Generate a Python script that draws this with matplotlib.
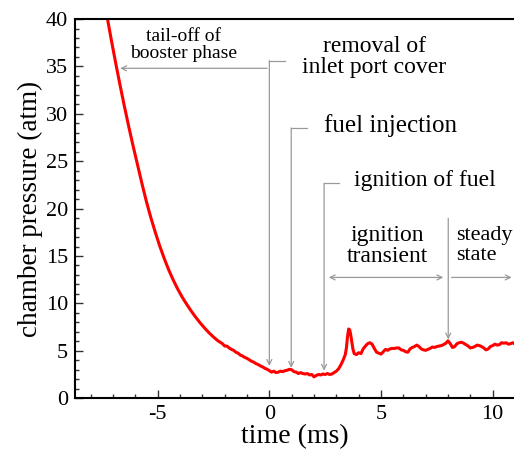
import matplotlib
matplotlib.use("Agg")
import matplotlib.pyplot as plt
from matplotlib.ticker import MultipleLocator

plt.rcParams["font.family"] = ["Liberation Serif", "DejaVu Serif"]

# 燃燒室壓力歷程 (time in ms, pressure in atm)
time_ms = [
    -7.3, -7.1, -6.9, -6.7, -6.5, -6.3, -6.1, -5.9, -5.7, -5.5, -5.3, -5.1, -4.9,
    -4.7, -4.5, -4.3, -4.1, -3.9, -3.7, -3.5, -3.3, -3.1, -2.9, -2.7, -2.5, -2.3,
    -2.2, -2.1, -2.0, -1.9, -1.8, -1.7, -1.6, -1.5, -1.4, -1.3, -1.2, -1.1,
    -1.0, -0.9, -0.8, -0.7, -0.6, -0.5, -0.4, -0.3, -0.2, -0.1, 0.0, 0.1, 0.2, 0.3,
    0.4, 0.5, 0.6, 0.7, 0.8, 0.9, 1.0, 1.1, 1.2, 1.3, 1.4, 1.5, 1.6, 1.7, 1.8, 1.9,
    2.0, 2.1, 2.2, 2.3, 2.4, 2.5, 2.6, 2.7, 2.8, 2.9, 3.0, 3.1, 3.2, 3.3, 3.4, 3.45,
    3.5, 3.55, 3.6, 3.65, 3.7, 3.75, 3.8, 3.9, 4.0, 4.1, 4.2, 4.3, 4.4, 4.5, 4.6,
    4.7, 4.8, 4.9, 5.0, 5.1, 5.2, 5.3, 5.4, 5.5, 5.6, 5.7, 5.8, 5.9, 6.0, 6.1, 6.2,
    6.3, 6.4, 6.5, 6.6, 6.7, 6.8, 6.9, 7.0, 7.1, 7.2, 7.3, 7.4, 7.5, 7.6, 7.7, 7.8,
    7.9, 8.0, 8.1, 8.2, 8.3, 8.4, 8.5, 8.6, 8.7, 8.8, 8.9, 9.0, 9.1, 9.2, 9.3, 9.4,
    9.5, 9.6, 9.7, 9.8, 9.9, 10.0, 10.1, 10.2, 10.3, 10.4, 10.5, 10.6, 10.7, 10.8,
    10.9, 11.0,
]
pressure_atm = [
    40.7, 38.1, 35.6, 33.2, 30.9, 28.7, 26.6, 24.6, 22.6, 20.7, 19.0, 17.45, 16.0,
    14.7, 13.5, 12.45, 11.5, 10.65, 9.9, 9.2, 8.55, 7.95, 7.4, 6.9, 6.45, 6.05,
    5.9, 5.75, 5.5, 5.5, 5.3, 5.15, 5.05, 4.85, 4.75, 4.55, 4.45, 4.3,
    4.2, 4.05, 3.9, 3.8, 3.65, 3.55, 3.4, 3.3, 3.15, 3.05, 2.9, 2.75, 2.85, 2.7,
    2.75, 2.85, 2.8, 2.9, 2.95, 3.05, 3.0, 2.8, 2.75, 2.6, 2.7, 2.6, 2.55, 2.6, 2.45, 2.5,
    2.25, 2.4, 2.5, 2.45, 2.55, 2.5, 2.6, 2.5, 2.55, 2.7, 2.85, 3.1, 3.5, 4.0, 4.6, 5.3,
    6.5, 7.3, 7.2, 6.6, 5.8, 5.1, 4.7, 4.6, 4.8, 4.7, 5.2, 5.5, 5.75, 5.85, 5.7,
    5.25, 4.85, 4.75, 4.65, 4.9, 5.15, 5.05, 5.2, 5.25, 5.25, 5.3, 5.3, 5.1, 5.05, 4.9, 4.85,
    5.2, 5.35, 5.45, 5.6, 5.45, 5.2, 5.1, 5.05, 5.15, 5.25, 5.4, 5.35, 5.45, 5.5, 5.55, 5.65,
    5.8, 6.05, 5.75, 5.35, 5.45, 5.75, 5.85, 5.9, 5.8, 5.65, 5.5, 5.3, 5.35, 5.45, 5.6, 5.55,
    5.45, 5.3, 5.1, 5.2, 5.45, 5.55, 5.7, 5.6, 5.65, 5.85, 5.8, 5.85, 5.7, 5.75,
    5.85, 5.7,
]

GRAY = "#9a9a9a"
ARROW = dict(arrowstyle="->", color=GRAY, lw=0.9, shrinkA=0, shrinkB=0,
             mutation_scale=9)


def bracket_arrow(ax, x, y_top, y_tip, x_stub):
    # 垂直箭頭 + 頂端短橫線
    ax.annotate("", xy=(x, y_tip), xytext=(x, y_top), arrowprops=ARROW)
    ax.plot([x, x_stub], [y_top, y_top], color=GRAY, lw=0.9)


fig = plt.figure(figsize=(5.14, 4.53), dpi=100)
ax = fig.add_axes([0.146, 0.121, 0.856, 0.837])

ax.plot(time_ms, pressure_atm, color="#ff0000", lw=2.2, solid_joinstyle="round")

ax.set_xlim(-8.7, 11.0)
ax.set_ylim(0, 40)
ax.xaxis.set_major_locator(MultipleLocator(5))
ax.xaxis.set_minor_locator(MultipleLocator(1))
ax.yaxis.set_major_locator(MultipleLocator(5))
ax.yaxis.set_minor_locator(MultipleLocator(1))
ax.tick_params(which="both", direction="in", labelsize=16, width=1.0, color="#333333")
ax.tick_params(which="major", length=6, pad=5)
ax.tick_params(which="minor", length=3)
ax.spines["right"].set_visible(False)
for s in ("left", "bottom", "top"):
    ax.spines[s].set_linewidth(1.5)
ax.xaxis.set_major_formatter(plt.FuncFormatter(lambda v, _: f"{v:.0f}"))
ax.yaxis.set_major_formatter(plt.FuncFormatter(lambda v, _: f"{v:.0f}"))

ax.set_xlabel("time (ms)", fontsize=20, labelpad=0)
ax.set_ylabel("chamber pressure (atm)", fontsize=19.5, labelpad=2)

# 註解
ax.annotate("", xy=(-6.68, 34.8), xytext=(-0.1, 34.8), arrowprops=ARROW)
ax.text(-3.85, 37.3, "tail-off of\nbooster phase", fontsize=14, ha="center",
        va="center", linespacing=1.0)

bracket_arrow(ax, 0.0, 35.6, 3.4, 0.7)
ax.text(4.7, 36.0, "removal of\ninlet port cover", fontsize=17, ha="center",
        va="center", linespacing=0.98)

bracket_arrow(ax, 0.98, 28.5, 3.2, 1.7)
ax.text(2.45, 28.8, "fuel injection", fontsize=18, ha="left", va="center")

bracket_arrow(ax, 2.45, 22.65, 2.9, 3.1)
ax.text(3.8, 23.0, "ignition of fuel", fontsize=17, ha="left", va="center")

ax.annotate("", xy=(2.66, 12.74), xytext=(7.79, 12.74),
            arrowprops=dict(ARROW, arrowstyle="<->"))
ax.text(5.3, 16.1, "ignition\ntransient", fontsize=17, ha="center", va="center",
        linespacing=1.0)

ax.annotate("", xy=(8.01, 6.2), xytext=(8.01, 18.97), arrowprops=ARROW)
ax.annotate("", xy=(10.85, 12.74), xytext=(8.16, 12.74), arrowprops=ARROW)
ax.text(8.35, 16.1, "steady\nstate", fontsize=16, ha="left", va="center",
        linespacing=1.05)

fig.savefig("out.png", dpi=100)
plt.close(fig)
